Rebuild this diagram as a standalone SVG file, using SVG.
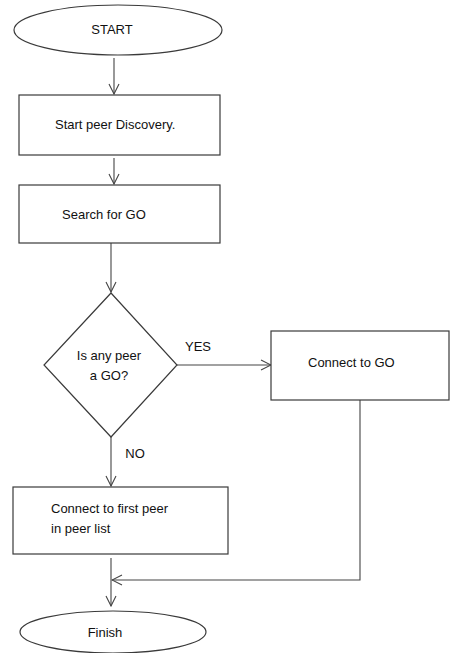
<svg xmlns="http://www.w3.org/2000/svg" width="450" height="653" viewBox="0 0 450 653">
<defs>
<style>
.shape{fill:#fff;stroke:#3a3a3a;stroke-width:1.2}
.conn{fill:none;stroke:#444;stroke-width:1.1}
text{font-family:"Liberation Sans","Open Sans",sans-serif;font-size:13px;fill:#111}
.c{text-anchor:middle}
</style>
<marker id="arr" viewBox="0 0 12 12" refX="11" refY="6" markerWidth="12" markerHeight="12" markerUnits="userSpaceOnUse" orient="auto">
<path d="M1,1 L11,6 L1,11" fill="none" stroke="#444" stroke-width="1.1"/>
</marker>
</defs>
<rect width="450" height="653" fill="#fff"/>
<g id="connectors">
<line class="conn" x1="114" y1="58" x2="114" y2="94" marker-end="url(#arr)"/>
<line class="conn" x1="114" y1="158" x2="114" y2="184" marker-end="url(#arr)"/>
<line class="conn" x1="111" y1="243" x2="111" y2="292" marker-end="url(#arr)"/>
<line class="conn" x1="177" y1="365" x2="271" y2="365" marker-end="url(#arr)"/>
<line class="conn" x1="111" y1="437" x2="111" y2="486" marker-end="url(#arr)"/>
<line class="conn" x1="111" y1="558" x2="111" y2="606" marker-end="url(#arr)"/>
<polyline class="conn" points="360,400 360,580 112,580" marker-end="url(#arr)"/>
<text class="c" x="198" y="351">YES</text>
<text class="c" x="135" y="458">NO</text>
</g>
<g id="start">
<ellipse class="shape" cx="118" cy="30" rx="104" ry="25"/>
<text class="c" x="112" y="34">START</text>
</g>
<g id="discovery">
<rect class="shape" x="19" y="95" width="201" height="60"/>
<text x="55" y="129">Start peer Discovery.</text>
</g>
<g id="search">
<rect class="shape" x="19" y="185" width="201" height="58"/>
<text x="62" y="219">Search for GO</text>
</g>
<g id="decision">
<polygon class="shape" points="111,293 177,365 111,437 44,365"/>
<text class="c" x="109" y="360">Is any peer</text>
<text class="c" x="109" y="380">a GO?</text>
</g>
<g id="connect-go">
<rect class="shape" x="271" y="331" width="178" height="69"/>
<text x="308" y="367">Connect to GO</text>
</g>
<g id="connect-first">
<rect class="shape" x="13" y="487" width="215" height="67"/>
<text x="51" y="513">Connect to first peer</text>
<text x="51" y="533">in peer list</text>
</g>
<g id="finish">
<ellipse class="shape" cx="113" cy="632" rx="93" ry="21"/>
<text class="c" x="105" y="637">Finish</text>
</g>
</svg>
